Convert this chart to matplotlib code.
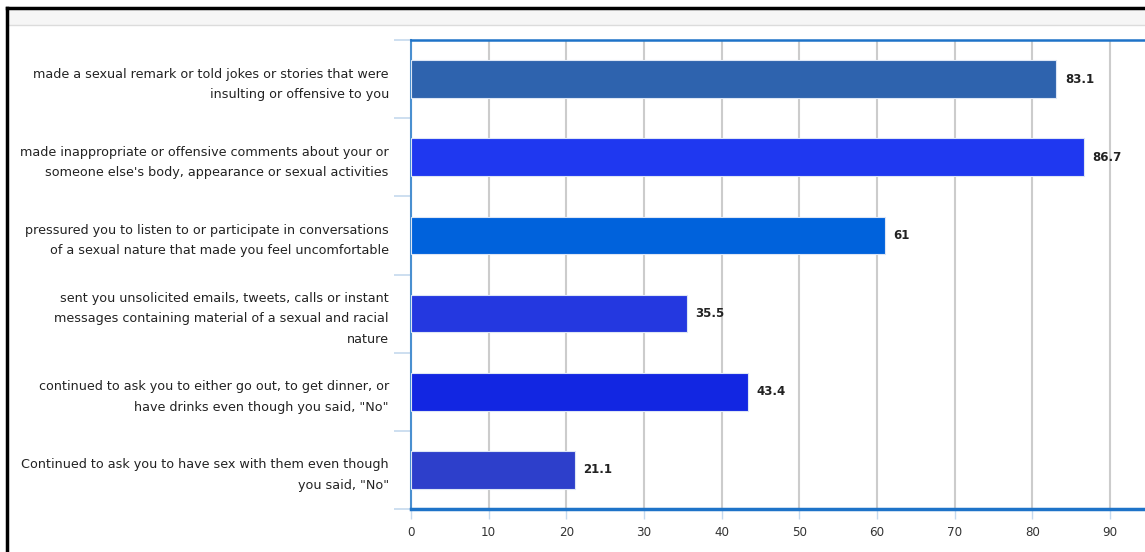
import matplotlib
matplotlib.use("Agg")
import matplotlib.pyplot as plt
from matplotlib.patches import Rectangle
from matplotlib.lines import Line2D
import numpy as np

categories = [
    "made a sexual remark or told jokes or stories that were\ninsulting or offensive to you",
    "made inappropriate or offensive comments about your or\nsomeone else's body, appearance or sexual activities",
    "pressured you to listen to or participate in conversations\nof a sexual nature that made you feel uncomfortable",
    "sent you unsolicited emails, tweets, calls or instant\nmessages containing material of a sexual and racial\nnature",
    "continued to ask you to either go out, to get dinner, or\nhave drinks even though you said, \"No\"",
    "Continued to ask you to have sex with them even though\nyou said, \"No\"",
]
values = [83.1, 86.7, 61, 35.5, 43.4, 21.1]
value_labels = ["83.1", "86.7", "61", "35.5", "43.4", "21.1"]
bar_colors = ["#2E63AE", "#1F38F0", "#0062DC", "#2438E0", "#1226E2", "#2D3FCB"]
xticks = [0, 10, 20, 30, 40, 50, 60, 70, 80, 90]

W, H = 1145, 552
fig = plt.figure(figsize=(W / 100, H / 100), dpi=100)
fig.patch.set_facecolor("white")

# page decorations: gray header band and black frame
fig.patches.append(Rectangle((8 / W, 1 - 25 / H), 1, 17 / H, transform=fig.transFigure,
                             facecolor="#F6F6F6", edgecolor="none", zorder=0))
fig.add_artist(Line2D([8 / W, 1], [1 - 25 / H, 1 - 25 / H], transform=fig.transFigure,
                      color="#DCDCDC", lw=1))
fig.add_artist(Line2D([7 / W, 1], [1 - 7.5 / H, 1 - 7.5 / H], transform=fig.transFigure,
                      color="black", lw=2.5))
fig.add_artist(Line2D([7 / W, 7 / W], [0, 1 - 7.5 / H], transform=fig.transFigure,
                      color="black", lw=2.5))

left_px, top_px, bottom_px = 411, 40, 509
ax = fig.add_axes([left_px / W, 1 - bottom_px / H, 1 - left_px / W, (bottom_px - top_px) / H])

xmax = (W - left_px) / 77.67 * 10
y = np.arange(len(categories))
ax.barh(y, values, height=0.48, color=bar_colors, edgecolor="#DDE6F5", linewidth=0.8, zorder=3)
ax.set_xlim(0, xmax)
ax.set_ylim(len(categories) - 0.5, -0.5)

for yi, v, lab in zip(y, values, value_labels):
    ax.annotate(lab, (v, yi), xytext=(6, 0), textcoords="offset points",
                ha="left", va="center", fontsize=8.5, fontweight="bold", color="#222222", zorder=4)

ax.set_xticks(xticks)
ax.set_xticklabels([str(t) for t in xticks], fontsize=8.6, color="#333333")
ax.grid(axis="x", color="#CCCCCC", lw=1.5, zorder=1)
ax.set_axisbelow(True)
ax.tick_params(axis="x", length=7, width=1, color="#C5D9EE", pad=5)

ax.set_yticks(y)
ax.set_yticklabels(categories, fontsize=9.2, color="#222222", linespacing=1.75)
ax.set_yticks(np.arange(-0.5, len(categories), 1.0), minor=True)
ax.tick_params(axis="y", which="major", length=0, pad=16)
ax.tick_params(axis="y", which="minor", length=12, width=1.2, color="#C5D9EE")

ax.spines["right"].set_visible(False)
ax.spines["top"].set_color("#1E73C8")
ax.spines["top"].set_linewidth(1.8)
ax.spines["bottom"].set_color("#1E73C8")
ax.spines["bottom"].set_linewidth(2.5)
ax.spines["left"].set_color("#4A8FD0")
ax.spines["left"].set_linewidth(1.5)

fig.savefig("out.png", dpi=100, facecolor="white")
